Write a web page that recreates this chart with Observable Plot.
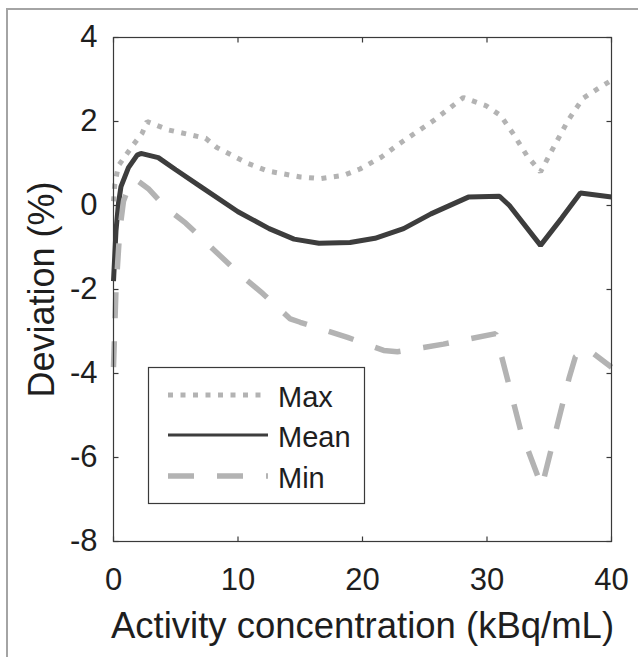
<!DOCTYPE html>
<html><head><meta charset="utf-8">
<script src="https://cdn.jsdelivr.net/npm/d3@7"></script>
<script src="https://cdn.jsdelivr.net/npm/@observablehq/plot@0.6"></script>
<style>
body{margin:0;background:#fff;}
#wrap{position:relative;width:638px;height:657px;overflow:hidden;background:#fff;}
#border{position:absolute;left:6px;top:8px;width:800px;height:800px;border-left:2px solid #a4a4a4;border-top:2px solid #a4a4a4;}
#wrap svg{position:absolute;left:0;top:0;}
</style></head><body><div id="wrap"><div id="border"></div></div>
<script>
const xDomain = [0, 40];
const yDomain = [-8, 4];
const xTicks = [0, 10, 20, 30, 40];
const yTicks = [-8, -6, -4, -2, 0, 2, 4];
const xLabel = "Activity concentration (kBq/mL)";
const yLabel = "Deviation (%)";
const seriesNames = ["Max", "Mean", "Min"];

const maxX = [0, 0.1, 0.4, 1.0, 1.6, 2.3, 2.7, 4.4, 7.4, 8.3, 10.8, 12.4, 15, 16.6, 18.5, 19.8, 21.5, 23, 25.7, 28.1, 29.9, 31.1, 32.1, 33.2, 34.3, 35.3, 36.5, 37.7, 39, 40];
const maxY = [0.1, 0.5, 0.95, 1.2, 1.45, 1.72, 2.0, 1.8, 1.6, 1.38, 1.0, 0.82, 0.68, 0.64, 0.72, 0.87, 1.15, 1.48, 2.02, 2.57, 2.38, 2.14, 1.71, 1.19, 0.8, 1.36, 2.02, 2.55, 2.8, 2.98];

const meanX = [0, 0.2, 0.4, 0.6, 1.2, 1.9, 2.2, 3.6, 5, 7, 10, 12.5, 14.5, 16.5, 19, 21, 23.3, 25.5, 28.5, 31, 31.8, 34.3, 36, 37.5, 40];
const meanY = [-1.8, -0.6, 0.05, 0.45, 0.9, 1.2, 1.24, 1.14, 0.85, 0.45, -0.15, -0.55, -0.8, -0.9, -0.88, -0.78, -0.55, -0.2, 0.2, 0.22, 0.0, -0.95, -0.3, 0.3, 0.2];

const minX = [0, 0.2, 0.5, 0.8, 1.3, 1.8, 2.8, 4.2, 5.8, 10, 12, 14.2, 15, 18.8, 21.7, 22.8, 24.9, 26.5, 30.7, 32.7, 34.4, 35.5, 36.6, 37.1, 38, 40];
const minY = [-3.85, -2.0, -0.6, 0.1, 0.5, 0.62, 0.4, -0.05, -0.42, -1.6, -2.1, -2.7, -2.78, -3.14, -3.45, -3.48, -3.38, -3.3, -3.05, -5.35, -6.7, -5.4, -4.1, -3.6, -3.4, -3.85];

const styles = {
  Max:  {stroke: "#b3b3b3", strokeWidth: 5,   dash: "5,7.5", legendWidth: 5},
  Mean: {stroke: "#3d3d3d", strokeWidth: 5,   dash: null,    legendWidth: 3},
  Min:  {stroke: "#b3b3b3", strokeWidth: 5.5, dash: "26,23", legendWidth: 5.5}
};

const toRows = (xs, ys) => xs.map((x, i) => ({x, y: ys[i]}));
const data = {Max: toRows(maxX, maxY), Mean: toRows(meanX, meanY), Min: toRows(minX, minY)};

const axisColor = "#3a3a3a";
const tickUp = {draw(c){c.moveTo(0,0);c.lineTo(0,-5);}};
const tickDown = {draw(c){c.moveTo(0,0);c.lineTo(0,5);}};
const tickRight = {draw(c){c.moveTo(0,0);c.lineTo(5,0);}};
const tickLeft = {draw(c){c.moveTo(0,0);c.lineTo(-5,0);}};
const tickOpts = {fill: "none", stroke: axisColor, strokeWidth: 1.2};

const font = "Liberation Sans, Arial, Helvetica, sans-serif";

const chart = Plot.plot({
  width: 638, height: 657,
  marginLeft: 113, marginRight: 27, marginTop: 37, marginBottom: 116,
  style: {fontFamily: font, background: "transparent", color: "#1e1e1e"},
  x: {domain: xDomain, label: null},
  y: {domain: yDomain, label: null},
  marks: [
    Plot.axisX({ticks: xTicks, tickSize: 0, tickPadding: 26, fontSize: 31, tickFormat: d => String(d), label: null}),
    Plot.axisY({ticks: yTicks, tickSize: 0, tickPadding: 16, fontSize: 31, tickFormat: d => String(d), label: null}),
    ...seriesNames.map(n => Plot.line(data[n], {
      x: "x", y: "y", stroke: styles[n].stroke, strokeWidth: styles[n].strokeWidth,
      strokeDasharray: styles[n].dash, strokeLinecap: "butt", strokeLinejoin: "miter"
    })),
    Plot.frame({stroke: axisColor, strokeWidth: 1.2}),
    Plot.dot(xTicks, {x: d => d, y: () => yDomain[0], symbol: tickUp, ...tickOpts}),
    Plot.dot(xTicks, {x: d => d, y: () => yDomain[1], symbol: tickDown, ...tickOpts}),
    Plot.dot(yTicks, {y: d => d, x: () => xDomain[0], symbol: tickRight, ...tickOpts}),
    Plot.dot(yTicks, {y: d => d, x: () => xDomain[1], symbol: tickLeft, ...tickOpts}),
    Plot.text([xLabel], {text: d => d, frameAnchor: "bottom", textAnchor: "middle", lineAnchor: "bottom", dy: 96, fontSize: 36.5, fill: "#1e1e1e"}),
    Plot.text([yLabel], {text: d => d, frameAnchor: "left", textAnchor: "middle", lineAnchor: "bottom", rotate: -90, dx: -60, fontSize: 36, fill: "#1e1e1e"})
  ]
});
document.getElementById("wrap").appendChild(chart);

// legend overlay
const lg = d3.create("svg").attr("width", 638).attr("height", 657).style("pointer-events", "none");
lg.append("rect").attr("x", 148.5).attr("y", 367.5).attr("width", 216).attr("height", 136)
  .attr("fill", "#fff").attr("stroke", axisColor).attr("stroke-width", 1.2);
const rowY = [395, 435, 476];
seriesNames.forEach((n, i) => {
  const s = styles[n];
  lg.append("line").attr("x1", 168).attr("x2", 268).attr("y1", rowY[i]).attr("y2", rowY[i])
    .attr("stroke", s.stroke).attr("stroke-width", s.legendWidth)
    .attr("stroke-dasharray", s.dash);
  lg.append("text").attr("x", 278).attr("y", rowY[i] + 12).attr("font-family", font)
    .attr("font-size", 29).attr("fill", "#1e1e1e").text(n);
});
document.getElementById("wrap").appendChild(lg.node());
</script>
</body></html>
